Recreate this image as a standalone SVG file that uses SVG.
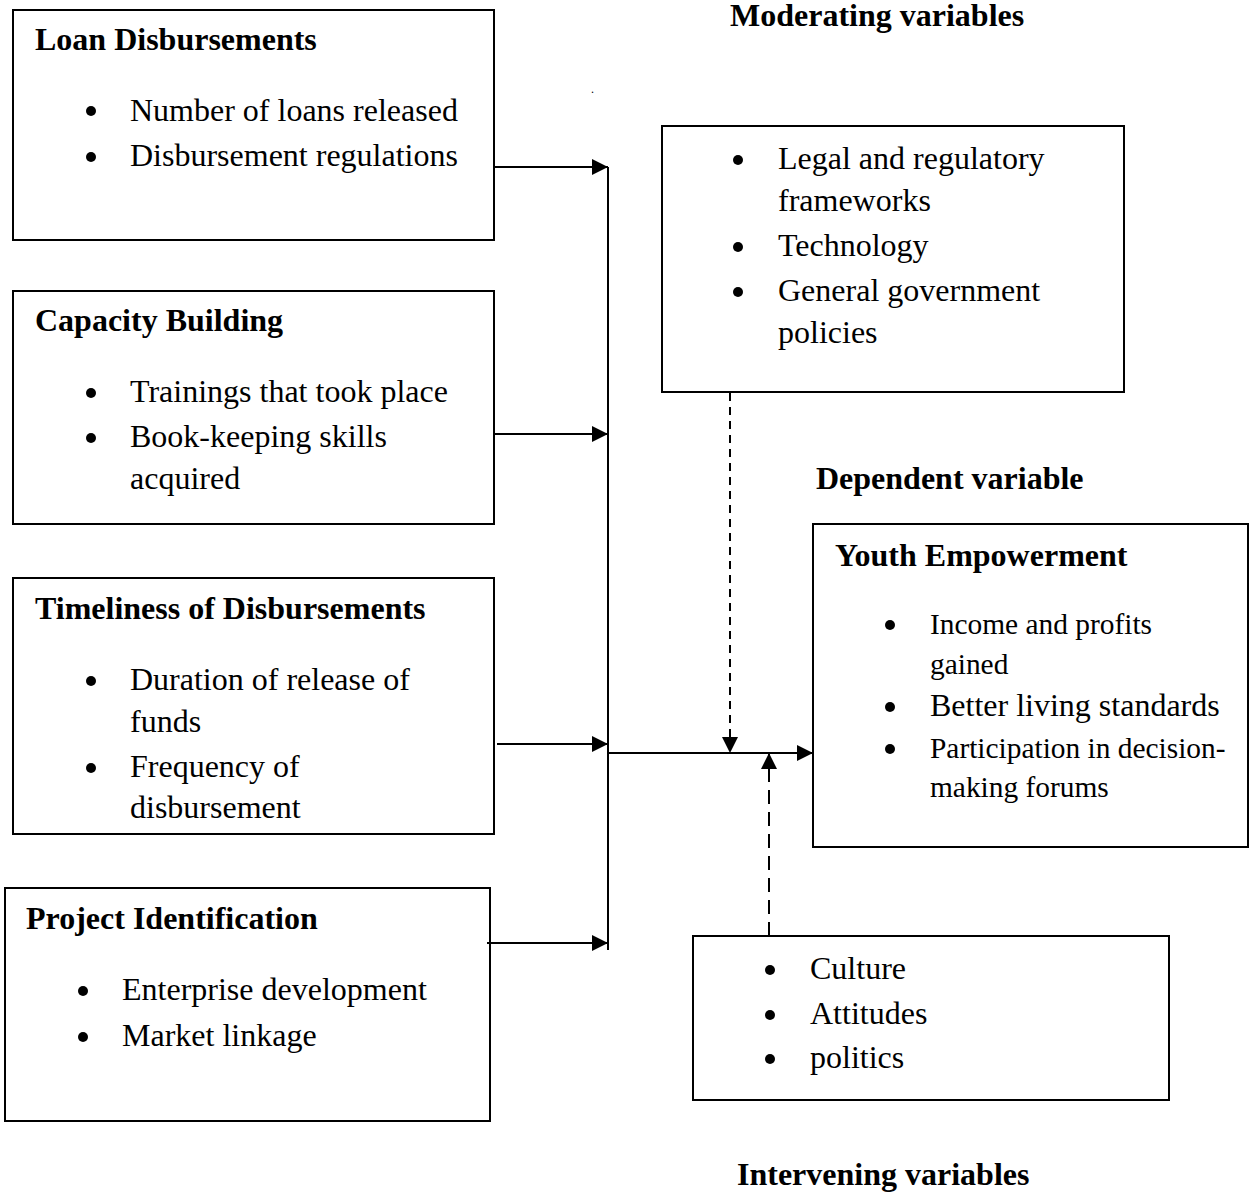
<svg xmlns="http://www.w3.org/2000/svg" width="1255" height="1192" viewBox="0 0 1255 1192">
<defs>
<style>
.box{fill:#fff;stroke:#000;stroke-width:2}
.t{font-family:"Liberation Serif","Times New Roman",serif;font-size:32px;fill:#000}
.s{font-family:"Liberation Serif","Times New Roman",serif;font-size:29.4px;fill:#000}
.b{font-weight:bold}
.ln{stroke:#000;stroke-width:2;fill:none}
.dash{stroke:#000;stroke-width:2;fill:none;stroke-dasharray:8,6}
</style>
<marker id="ah" viewBox="0 0 10 10" refX="10" refY="5" markerWidth="16" markerHeight="16" markerUnits="userSpaceOnUse" orient="auto">
<path d="M0,0 L10,5 L0,10 z" fill="#000"/>
</marker>
</defs>
<rect width="1255" height="1192" fill="#fff"/>
<text class="t b" x="730" y="26">Moderating variables</text>
<text class="t b" x="816" y="489">Dependent variable</text>
<text class="t b" x="737" y="1185">Intervening variables</text>
<text class="t" x="591" y="93" style="font-size:12px">.</text>

<g id="loan">
<rect class="box" x="13" y="10" width="481" height="230"/>
<text class="t b" x="35" y="50">Loan Disbursements</text>
<circle cx="91" cy="111" r="5"/><text class="t" x="130" y="121">Number of loans released</text>
<circle cx="91" cy="157" r="5"/><text class="t" x="130" y="166">Disbursement regulations</text>
</g>
<g id="capacity">
<rect class="box" x="13" y="291" width="481" height="233"/>
<text class="t b" x="35" y="331">Capacity Building</text>
<circle cx="91" cy="393" r="5"/><text class="t" x="130" y="402">Trainings that took place</text>
<circle cx="91" cy="438" r="5"/><text class="t" x="130" y="447">Book-keeping skills</text>
<text class="t" x="130" y="489">acquired</text>
</g>
<g id="timeliness">
<rect class="box" x="13" y="578" width="481" height="256"/>
<text class="t b" x="35" y="619">Timeliness of Disbursements</text>
<circle cx="91" cy="681" r="5"/><text class="t" x="130" y="690">Duration of release of</text>
<text class="t" x="130" y="732">funds</text>
<circle cx="91" cy="768" r="5"/><text class="t" x="130" y="777">Frequency of</text>
<text class="t" x="130" y="818">disbursement</text>
</g>
<g id="project">
<rect class="box" x="5" y="888" width="485" height="233"/>
<text class="t b" x="26" y="929">Project Identification</text>
<circle cx="83" cy="991" r="5"/><text class="t" x="122" y="1000">Enterprise development</text>
<circle cx="83" cy="1037" r="5"/><text class="t" x="122" y="1046">Market linkage</text>
</g>
<g id="moderating">
<rect class="box" x="662" y="126" width="462" height="266"/>
<circle cx="738" cy="160" r="5"/><text class="t" x="778" y="169">Legal and regulatory</text>
<text class="t" x="778" y="211">frameworks</text>
<circle cx="738" cy="247" r="5"/><text class="t" x="778" y="256">Technology</text>
<circle cx="738" cy="292" r="5"/><text class="t" x="778" y="301">General government</text>
<text class="t" x="778" y="343">policies</text>
</g>
<g id="youth">
<rect class="box" x="813" y="524" width="435" height="323"/>
<text class="t b" x="835" y="566">Youth Empowerment</text>
<circle cx="890" cy="625" r="5"/><text class="s" x="930" y="634">Income and profits</text>
<text class="s" x="930" y="674">gained</text>
<circle cx="890" cy="707" r="5"/><text class="t" x="930" y="716">Better living standards</text>
<circle cx="890" cy="749" r="5"/><text class="s" x="930" y="758">Participation in decision-</text>
<text class="s" x="930" y="797">making forums</text>
</g>
<g id="intervening">
<rect class="box" x="693" y="936" width="476" height="164"/>
<circle cx="770" cy="970" r="5"/><text class="t" x="810" y="979">Culture</text>
<circle cx="770" cy="1015" r="5"/><text class="t" x="810" y="1024">Attitudes</text>
<circle cx="770" cy="1059" r="5"/><text class="t" x="810" y="1068">politics</text>
</g>
<g id="connectors">
<line class="ln" x1="608" y1="167" x2="608" y2="950"/>
<line class="ln" x1="494" y1="167" x2="608" y2="167" marker-end="url(#ah)"/>
<line class="ln" x1="494" y1="434" x2="608" y2="434" marker-end="url(#ah)"/>
<line class="ln" x1="497" y1="744" x2="608" y2="744" marker-end="url(#ah)"/>
<line class="ln" x1="487" y1="943" x2="608" y2="943" marker-end="url(#ah)"/>
<line class="ln" x1="608" y1="753" x2="813" y2="753" marker-end="url(#ah)"/>
<line class="dash" x1="730" y1="393" x2="730" y2="753" marker-end="url(#ah)"/>
<line class="dash" x1="769" y1="936" x2="769" y2="753" style="stroke-dasharray:14,8" marker-end="url(#ah)"/>
</g>
</svg>
